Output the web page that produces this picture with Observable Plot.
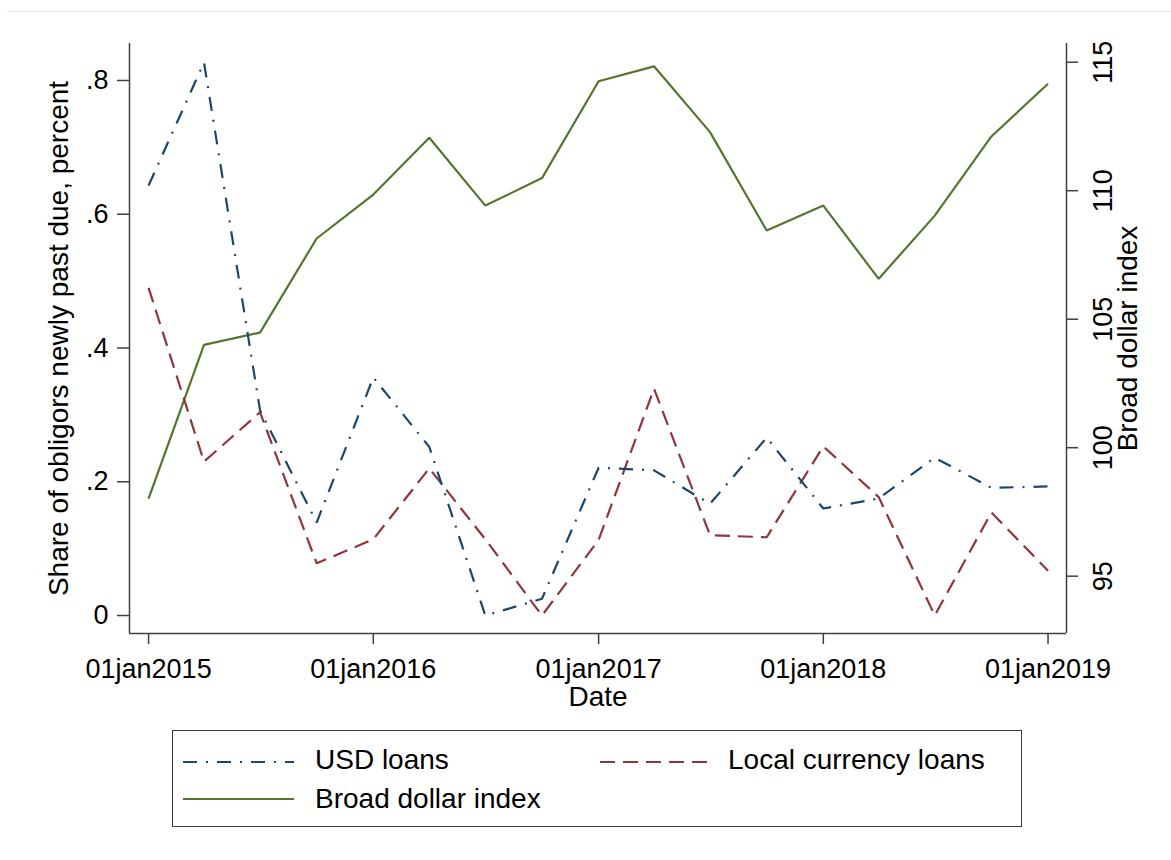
<!DOCTYPE html>
<html>
<head>
<meta charset="utf-8">
<script src="https://cdn.jsdelivr.net/npm/d3@7"></script>
<script src="https://cdn.jsdelivr.net/npm/@observablehq/plot@0.6"></script>
<style>
  html, body { margin: 0; padding: 0; background: #fff; }
  body { font-family: "Liberation Sans", Arial, sans-serif; }
  #wrap { position: relative; width: 1171px; height: 860px; overflow: hidden; }
  #topline { position: absolute; left: 7px; right: 0; top: 11px; height: 1px; background: #e4ebed; }
  #chart svg { display: block; }
  #legend { position: relative; box-sizing: border-box; margin: 10px 0 0 172px; width: 850px; height: 97px; border: 1px solid #3a3a3a; background: #fff; }
  .lg-sample { position: absolute; width: 111px; height: 6px; overflow: visible; }
  .lg-text { position: absolute; font-size: 28px; line-height: 32px; color: #000; white-space: nowrap; }
</style>
</head>
<body>
<div id="wrap">
  <div id="chart"></div>
  <div id="topline"></div>
  <div id="legend"></div>
</div>
<script>
// ---- Data (quarterly) ----
const dates = ["2015-01-01","2015-04-01","2015-07-01","2015-10-01",
               "2016-01-01","2016-04-01","2016-07-01","2016-10-01",
               "2017-01-01","2017-04-01","2017-07-01","2017-10-01",
               "2018-01-01","2018-04-01","2018-07-01","2018-10-01",
               "2019-01-01"];
const usdLoans   = [0.643, 0.827, 0.307, 0.139, 0.356, 0.252, 0.000, 0.025, 0.221, 0.217, 0.167, 0.266, 0.160, 0.175, 0.236, 0.191, 0.193];
const localLoans = [0.490, 0.230, 0.304, 0.078, 0.114, 0.220, 0.114, 0.000, 0.113, 0.339, 0.120, 0.117, 0.253, 0.177, 0.000, 0.154, 0.067];
const broadDollar = [98.02, 104.00, 104.48, 108.14, 109.85, 112.06, 109.42, 110.49, 114.26, 114.84, 112.28, 108.45, 109.42, 106.57, 109.03, 112.11, 114.16];

const xTickDates = ["2015-01-01","2016-01-01","2017-01-01","2018-01-01","2019-01-01"];
const leftTicks  = [0, 0.2, 0.4, 0.6, 0.8];
const rightTicks = [95, 100, 105, 110, 115];

const seriesNames = ["USD loans", "Local currency loans", "Broad dollar index"];
const colors = {usd: "#1a476f", local: "#90353b", broad: "#55752f"};
const dashes = {usd: "14,9,2,9", local: "15,8", broad: null};

// ---- Scales ----
const leftDomain  = [-0.0269, 0.8553];
const rightDomain = [92.77, 115.728];
const toLeft = d3.scaleLinear().domain(rightDomain).range(leftDomain);
const xDomain = [new Date("2014-12-01"), new Date("2019-01-31")];

const rows = dates.map((d, i) => ({
  date: new Date(d), usd: usdLoans[i], local: localLoans[i], broad: broadDollar[i]
}));

const FONT = '"Liberation Sans", Arial, sans-serif';
const AXIS = "#404040";
const fmtLeft = d => d === 0 ? "0" : String(d).replace(/^0/, "");

const chart = Plot.plot({
  width: 1171,
  height: 720,
  marginLeft: 129,
  marginRight: 105,
  marginTop: 43,
  marginBottom: 87,
  x: {type: "utc", domain: xDomain},
  y: {domain: leftDomain},
  style: {fontFamily: FONT, fontSize: "27px", color: "#000", background: "#fff", overflow: "visible"},
  marks: [
    // axis lines
    Plot.ruleX([xDomain[0]], {stroke: AXIS, strokeWidth: 1.5}),
    Plot.ruleX([xDomain[1]], {stroke: AXIS, strokeWidth: 1.5}),
    Plot.ruleY([leftDomain[0]], {stroke: AXIS, strokeWidth: 1.5}),
    // x axis
    Plot.axisX(xTickDates.map(d => new Date(d)), {
      tickSize: 11, tickPadding: 14, stroke: AXIS, strokeWidth: 1.5, fill: "#000",
      fontSize: 27, label: null,
      tickFormat: d => "01jan" + d.getUTCFullYear()
    }),
    // left y axis
    Plot.axisY(leftTicks, {
      anchor: "left", tickSize: 12, tickPadding: 9, stroke: AXIS, strokeWidth: 1.5, fill: "#000",
      fontSize: 27, label: null, tickFormat: fmtLeft
    }),
    // right y axis (ticks only; labels rotated below)
    Plot.axisY(rightTicks.map(v => toLeft(v)), {
      anchor: "right", tickSize: 11, stroke: AXIS, strokeWidth: 1.5,
      label: null, tickFormat: () => ""
    }),
    Plot.text(rightTicks, {
      y: v => toLeft(v), text: v => String(v), frameAnchor: "right", dx: 37,
      rotate: -90, textAnchor: "middle", lineAnchor: "middle", fontSize: 27, fill: "#000"
    }),
    // axis titles
    Plot.text(["Share of obligors newly past due, percent"], {
      frameAnchor: "left", dx: -70, rotate: -90, textAnchor: "middle", lineAnchor: "middle",
      fontSize: 28, fill: "#000"
    }),
    Plot.text(["Broad dollar index"], {
      frameAnchor: "right", dx: 62, rotate: -90, textAnchor: "middle", lineAnchor: "middle",
      fontSize: 28, fill: "#000"
    }),
    Plot.text(["Date"], {
      frameAnchor: "bottom", dy: 64, textAnchor: "middle", lineAnchor: "middle",
      fontSize: 28, fill: "#000"
    }),
    // series
    Plot.line(rows, {x: "date", y: "broad", stroke: colors.broad, strokeWidth: 2.2,
      strokeLinecap: "butt", strokeLinejoin: "miter",
      y: d => toLeft(d.broad)}),
    Plot.line(rows, {x: "date", y: "local", stroke: colors.local, strokeWidth: 2.2,
      strokeDasharray: dashes.local, strokeLinecap: "butt", strokeLinejoin: "miter"}),
    Plot.line(rows, {x: "date", y: "usd", stroke: colors.usd, strokeWidth: 2.2,
      strokeDasharray: dashes.usd, strokeLinecap: "butt", strokeLinejoin: "miter"})
  ]
});
document.getElementById("chart").appendChild(chart);

// ---- Legend ----
const legend = document.getElementById("legend");
const items = [
  {name: seriesNames[0], key: "usd",   sx: 10,  tx: 142, sy: 30.7, ty: 13},
  {name: seriesNames[1], key: "local", sx: 427, tx: 555, sy: 30.7, ty: 13},
  {name: seriesNames[2], key: "broad", sx: 10,  tx: 142, sy: 68.3, ty: 52}
];
items.forEach(it => {
  const ns = "http://www.w3.org/2000/svg";
  const svg = document.createElementNS(ns, "svg");
  svg.setAttribute("class", "lg-sample");
  svg.setAttribute("width", 111);
  svg.setAttribute("height", 6);
  svg.style.left = it.sx + "px";
  svg.style.top = (it.sy - 3) + "px";
  const ln = document.createElementNS(ns, "line");
  ln.setAttribute("x1", 0); ln.setAttribute("x2", 111);
  ln.setAttribute("y1", 3); ln.setAttribute("y2", 3);
  ln.setAttribute("stroke", colors[it.key]);
  ln.setAttribute("stroke-width", 2.2);
  if (dashes[it.key]) ln.setAttribute("stroke-dasharray", dashes[it.key]);
  svg.appendChild(ln);
  legend.appendChild(svg);
  const t = document.createElement("div");
  t.className = "lg-text";
  t.textContent = it.name;
  t.style.left = it.tx + "px";
  t.style.top = it.ty + "px";
  legend.appendChild(t);
});
</script>
</body>
</html>
